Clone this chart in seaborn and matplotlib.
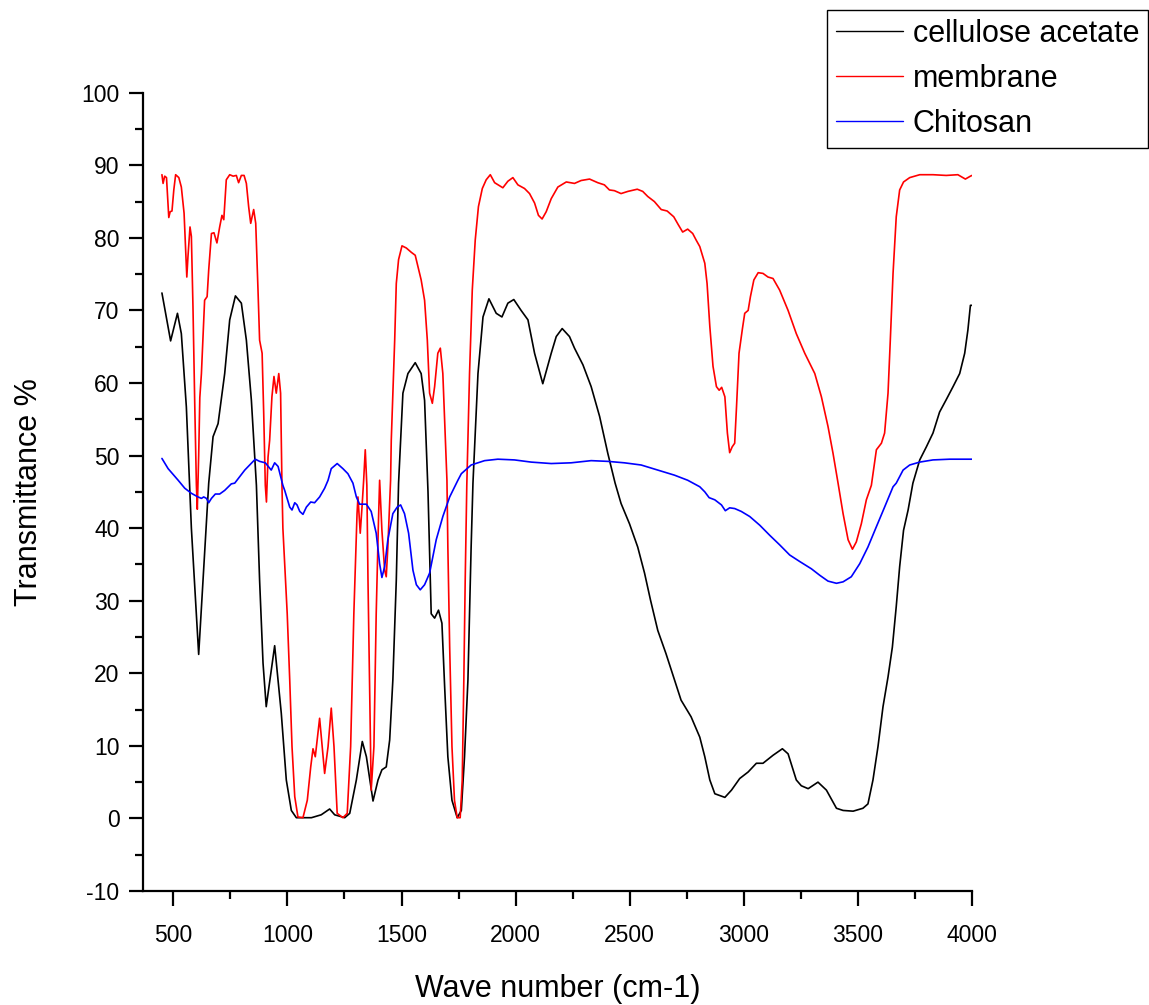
import matplotlib
matplotlib.use("Agg")
import matplotlib.pyplot as plt
from matplotlib.ticker import MultipleLocator
import seaborn as sns
import pandas as pd

# ---------------- data ----------------
ca_wn = [450, 488, 518, 535, 557, 579, 611, 655, 674, 696, 725, 747, 772, 798, 820, 842, 864,
         878, 893, 907, 944, 973, 995, 1017, 1039, 1105, 1148, 1185, 1207, 1251, 1273, 1302,
         1328, 1346, 1375, 1397, 1414, 1433, 1448, 1462, 1477, 1487, 1506, 1528, 1560, 1586,
         1601, 1616, 1630, 1645, 1662, 1677, 1689, 1703, 1721, 1744, 1762, 1776, 1791, 1805,
         1813, 1835, 1857, 1883, 1915, 1940, 1966, 1992, 2024, 2054, 2083, 2119, 2156, 2178,
         2204, 2236, 2258, 2295, 2331, 2368, 2404, 2436, 2462, 2499, 2535, 2565, 2591, 2623,
         2659, 2696, 2725, 2769, 2807, 2829, 2851, 2873, 2917, 2946, 2982, 3019, 3055, 3084,
         3128, 3169, 3194, 3230, 3252, 3282, 3325, 3362, 3406, 3435, 3479, 3522, 3544, 3566,
         3588, 3610, 3632, 3651, 3668, 3683, 3700, 3720, 3741, 3771, 3800, 3829, 3858, 3887,
         3917, 3946, 3968, 3982, 3993, 4000]
ca_t = [72.4, 65.8, 69.6, 66.8, 56.7, 40.0, 22.6, 46.2, 52.6, 54.4, 61.3, 68.7, 72.0, 71.0, 65.9,
        57.6, 45.9, 32.8, 21.4, 15.4, 23.8, 14.5, 5.3, 1.1, 0.1, 0.1, 0.5, 1.3, 0.5, 0.1, 0.7,
        5.3, 10.6, 8.5, 2.4, 5.3, 6.7, 7.1, 10.8, 19.1, 32.8, 46.2, 58.6, 61.3, 62.8, 61.3, 57.6,
        45.0, 28.2, 27.6, 28.7, 26.9, 18.1, 8.5, 2.5, 0.1, 1.1, 8.5, 19.1, 37.4, 46.2, 61.3,
        69.1, 71.6, 69.6, 69.1, 71.0, 71.5, 70.0, 68.7, 64.1, 59.9, 64.1, 66.4, 67.5, 66.4,
        64.8, 62.5, 59.5, 55.4, 50.3, 46.2, 43.4, 40.6, 37.4, 33.8, 30.1, 25.9, 22.7, 19.1,
        16.3, 14.0, 11.2, 8.5, 5.3, 3.4, 2.9, 3.9, 5.5, 6.4, 7.6, 7.6, 8.7, 9.6, 8.9, 5.3, 4.5,
        4.1, 5.0, 3.9, 1.4, 1.1, 1.0, 1.4, 2.0, 5.3, 9.9, 15.4, 19.5, 23.6, 29.2, 34.7, 39.7,
        42.5, 46.2, 49.4, 51.2, 53.1, 56.0, 57.7, 59.5, 61.3, 64.1, 67.3, 70.7, 70.7]

mem_wn = [450, 455, 462, 470, 480, 486, 494, 502, 510, 524, 535, 547, 559, 564, 573, 579, 586,
          594, 601, 605, 611, 616, 623, 637, 648, 655, 667, 678, 691, 703, 713, 721, 732, 747,
          762, 776, 786, 798, 810, 820, 830, 839, 852, 861, 871, 878, 889, 896, 903, 908, 915,
          922, 932, 941, 951, 962, 970, 976, 980, 988, 999, 1010, 1020, 1032, 1046, 1068, 1087,
          1102, 1112, 1122, 1141, 1163, 1178, 1192, 1204, 1218, 1243, 1262, 1277, 1291, 1305,
          1309, 1319, 1327, 1334, 1341, 1348, 1353, 1367, 1379, 1389, 1399, 1404, 1414, 1426,
          1433, 1440, 1452, 1455, 1470, 1477, 1487, 1502, 1521, 1543, 1560, 1572, 1586, 1601,
          1613, 1623, 1635, 1645, 1659, 1670, 1681, 1692, 1699, 1703, 1711, 1721, 1732, 1744,
          1757, 1766, 1773, 1779, 1786, 1798, 1810, 1823, 1837, 1854, 1871, 1889, 1908, 1944,
          1966, 1988, 2010, 2039, 2061, 2083, 2100, 2116, 2134, 2156, 2185, 2222, 2258, 2287,
          2324, 2360, 2389, 2411, 2433, 2462, 2492, 2533, 2557, 2579, 2608, 2638, 2664, 2693,
          2713, 2732, 2754, 2776, 2791, 2807, 2829, 2839, 2851, 2865, 2880, 2892, 2903, 2917,
          2928, 2938, 2949, 2960, 2968, 2979, 2994, 3004, 3019, 3029, 3044, 3063, 3084, 3106,
          3128, 3157, 3194, 3230, 3267, 3311, 3340, 3369, 3391, 3413, 3435, 3457, 3476, 3493,
          3515, 3537, 3559, 3581, 3603, 3617, 3632, 3642, 3654, 3668, 3683, 3700, 3727, 3771,
          3829, 3887, 3938, 3971, 3993, 4000]
mem_t = [88.7, 87.5, 88.5, 88.3, 82.8, 83.6, 83.7, 86.6, 88.7, 88.3, 87.0, 83.4, 74.6, 77.4,
         81.5, 80.2, 70.5, 56.7, 45.9, 42.6, 50.0, 58.0, 61.3, 71.4, 71.9, 75.6, 80.6, 80.7,
         79.3, 81.5, 83.1, 82.5, 88.0, 88.7, 88.5, 88.6, 87.6, 88.6, 88.6, 87.5, 84.3, 82.0,
         83.9, 82.0, 72.8, 65.9, 64.1, 55.8, 45.9, 43.6, 49.8, 52.1, 58.1, 60.9, 58.6, 61.3,
         58.6, 45.9, 40.0, 35.1, 28.2, 19.1, 9.9, 3.0, 0.2, 0.1, 2.5, 7.1, 9.6, 8.5, 13.8, 6.2,
         9.9, 15.2, 9.9, 0.7, 0.1, 0.7, 9.9, 28.2, 42.0, 44.3, 39.3, 43.0, 46.6, 50.8, 45.9,
         32.8, 3.9, 9.9, 28.2, 41.1, 46.6, 39.7, 34.2, 33.3, 37.4, 46.6, 52.1, 65.9, 73.7, 77.0,
         78.9, 78.6, 78.0, 77.6, 76.0, 74.2, 71.4, 65.9, 58.6, 57.2, 59.5, 64.1, 64.8, 61.3,
         52.1, 46.6, 37.4, 23.6, 9.9, 2.5, 0.1, 0.1, 5.3, 19.1, 32.8, 45.9, 61.3, 72.8, 79.7,
         84.3, 86.8, 88.0, 88.7, 87.6, 86.9, 87.8, 88.3, 87.3, 86.8, 86.1, 84.8, 83.1, 82.6,
         83.6, 85.4, 87.0, 87.7, 87.5, 87.9, 88.1, 87.6, 87.3, 86.6, 86.5, 86.1, 86.4, 86.7,
         86.4, 85.7, 85.0, 83.9, 83.7, 82.9, 81.8, 80.8, 81.2, 80.6, 79.7, 78.8, 76.5, 73.7,
         67.8, 62.3, 59.5, 59.0, 59.4, 58.1, 53.1, 50.4, 51.2, 51.7, 56.7, 64.1, 67.5, 69.6,
         70.0, 71.9, 74.2, 75.2, 75.1, 74.6, 74.4, 72.8, 70.0, 66.8, 64.1, 61.3, 58.1, 54.0,
         50.3, 46.2, 42.0, 38.4, 37.1, 38.1, 40.6, 43.9, 45.9, 50.8, 51.7, 53.1, 58.6, 65.9,
         75.1, 82.9, 86.6, 87.7, 88.3, 88.7, 88.7, 88.6, 88.7, 88.1, 88.5, 88.6]

chi_wn = [450, 477, 521, 550, 579, 608, 623, 633, 645, 655, 667, 684, 703, 725, 754, 769, 813,
          859, 878, 903, 929, 944, 959, 980, 988, 1010, 1020, 1032, 1042, 1054, 1068, 1083,
          1102, 1119, 1141, 1163, 1178, 1192, 1218, 1243, 1265, 1287, 1302, 1316, 1346, 1367,
          1389, 1404, 1414, 1426, 1440, 1462, 1481, 1496, 1513, 1531, 1550, 1565, 1582, 1601,
          1623, 1652, 1681, 1711, 1747, 1762, 1805, 1864, 1922, 1995, 2068, 2156, 2243, 2331,
          2404, 2477, 2550, 2623, 2696, 2754, 2807, 2829, 2848, 2873, 2902, 2919, 2938, 2960,
          2989, 3026, 3070, 3114, 3157, 3201, 3245, 3296, 3333, 3369, 3406, 3435, 3471, 3508,
          3544, 3581, 3617, 3654, 3668, 3698, 3727, 3771, 3829, 3902, 4000]
chi_t = [49.6, 48.2, 46.6, 45.5, 44.8, 44.3, 44.1, 44.3, 44.1, 43.5, 44.1, 44.7, 44.7, 45.2,
         46.1, 46.2, 48.0, 49.5, 49.2, 49.0, 48.0, 49.0, 48.5, 45.9, 45.2, 42.9, 42.5, 43.5,
         43.2, 42.3, 41.9, 42.9, 43.6, 43.5, 44.3, 45.5, 46.6, 48.2, 48.9, 48.2, 47.5, 46.2,
         44.3, 43.3, 43.3, 42.3, 39.3, 35.1, 33.2, 34.7, 38.4, 42.0, 42.9, 43.2, 42.0, 39.3,
         34.2, 32.2, 31.5, 32.2, 33.8, 38.4, 41.6, 44.3, 46.6, 47.5, 48.7, 49.3, 49.5, 49.4,
         49.1, 48.9, 49.0, 49.3, 49.2, 49.0, 48.7, 48.0, 47.3, 46.6, 45.7, 45.0, 44.2, 43.9,
         43.2, 42.4, 42.8, 42.7, 42.3, 41.6, 40.4, 39.0, 37.7, 36.3, 35.4, 34.4, 33.5, 32.7,
         32.4, 32.6, 33.3, 35.1, 37.4, 40.2, 42.9, 45.7, 46.2, 48.0, 48.7, 49.1, 49.4, 49.5,
         49.5]

series_names = ["cellulose acetate", "membrane", "Chitosan"]
series_colors = ["#000000", "#FF0000", "#0000FF"]
x_label = "Wave number (cm-1)"
y_label = "Transmittance %"

# ---------------- plot ----------------
sns.set_style("ticks")
plt.rcParams["font.family"] = ["Liberation Sans", "DejaVu Sans"]
plt.rcParams["axes.unicode_minus"] = False
plt.rcParams["text.color"] = "black"
plt.rcParams["axes.labelcolor"] = "black"

fig = plt.figure(figsize=(11.49, 10.05), dpi=100)
ax = fig.add_axes([143 / 1149, 1 - 891 / 1005, (972 - 143) / 1149, (891 - 92.7) / 1005])

frames = [
    pd.DataFrame({"wn": ca_wn, "T": ca_t}),
    pd.DataFrame({"wn": mem_wn, "T": mem_t}),
    pd.DataFrame({"wn": chi_wn, "T": chi_t}),
]
for df, name, col in zip(frames, series_names, series_colors):
    sns.lineplot(data=df, x="wn", y="T", ax=ax, color=col, linewidth=1.2,
                 estimator=None, sort=False, label=name)

ax.set_xlim(367, 4000)
ax.set_ylim(-10, 100)
ax.xaxis.set_major_locator(MultipleLocator(500))
ax.xaxis.set_minor_locator(MultipleLocator(250))
ax.yaxis.set_major_locator(MultipleLocator(10))
ax.yaxis.set_minor_locator(MultipleLocator(5))

for side in ["top", "right"]:
    ax.spines[side].set_visible(False)
for side in ["left", "bottom"]:
    ax.spines[side].set_linewidth(1.6)
    ax.spines[side].set_color("black")

ax.tick_params(axis="both", which="major", direction="out", length=10, width=1.6,
               labelsize=16.5, colors="black", labelcolor="black", pad=7)
ax.tick_params(axis="both", which="minor", direction="out", length=5.5, width=1.6,
               colors="black")
ax.tick_params(axis="x", which="major", length=11, pad=13)

ax.set_xlabel(x_label, fontsize=22, labelpad=19, color="black")
ax.set_ylabel(y_label, fontsize=22, labelpad=27, color="black")
ax.grid(False)

ax.get_legend().remove()
handles, labels = ax.get_legend_handles_labels()
leg = fig.legend(handles, labels, loc="upper left",
                 bbox_to_anchor=(827 / 1149, 1 - 10 / 1005), bbox_transform=fig.transFigure,
                 fontsize=22, frameon=True, fancybox=False, edgecolor="black",
                 framealpha=1, borderpad=0.3, labelspacing=0.48, handlelength=2.2,
                 handletextpad=0.3, borderaxespad=0, labelcolor="black")
leg.get_frame().set_linewidth(1.0)
for h in leg.get_lines():
    h.set_linewidth(1.0)

fig.savefig("out.png", dpi=100, facecolor="white")
